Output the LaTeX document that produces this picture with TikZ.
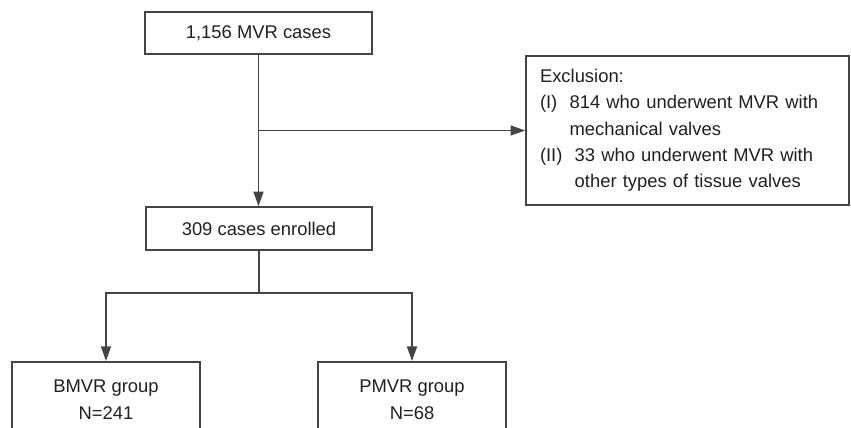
\documentclass[tikz,border=0pt]{standalone}
\usepackage{fontspec}
\setmainfont{Liberation Sans}
\usetikzlibrary{arrows.meta}
\definecolor{linec}{HTML}{444444}
\definecolor{textc}{HTML}{231F20}
\begin{document}
\begin{tikzpicture}[x=0.75pt,y=-0.75pt,
  box/.style={draw=linec, line width=1.2pt, text=textc, inner sep=0pt,
    font=\fontsize{13.8pt}{20pt}\selectfont},
  conn/.style={draw=linec, line width=1.2pt},
  arr/.style={conn, -{Triangle[length=11pt,width=7.5pt]}}]
\clip (0,0) rectangle (851,428);
\useasboundingbox (0,0) rectangle (851,428);
\fill[white] (0,0) rectangle (851,428);

\node[box, minimum width=170.25pt, minimum height=31.5pt] (top) at (258.5,33) {1,156 MVR cases};
\node[box, minimum width=169.5pt, minimum height=32.25pt] (mid) at (259,228.5) {309 cases enrolled};
\node[box, minimum width=242.25pt, minimum height=111.75pt, align=left,
  text width=221.25pt, inner xsep=10.5pt,
  font=\fontsize{13.8pt}{19.7pt}\selectfont] (exc) at (687.5,130.5)
  {Exclusion:\\
   (I)\ \ 814 who underwent MVR with\\
   \phantom{(I)\ \ }mechanical valves\\
   (II)\ \ 33 who underwent MVR with\\
   \phantom{(II)\ \ }other types of tissue valves};
\node[box, anchor=north, minimum width=141pt, minimum height=57pt, align=center] (bmvr) at (106,361)
  {BMVR group\\[0.3pt] N=241};
\node[box, anchor=north, minimum width=141pt, minimum height=57pt, align=center] (pmvr) at (412,361)
  {PMVR group\\[0.3pt] N=68};

\coordinate (split) at (259,293);
\draw[arr] (top.south) -- (top.south |- mid.north);
\draw[arr] (top.south |- exc.west) -- (exc.west);
\draw[conn] (mid.south) -- (split);
\draw[arr] (split) -| (bmvr.north);
\draw[arr] (split) -| (pmvr.north);
\end{tikzpicture}
\end{document}
